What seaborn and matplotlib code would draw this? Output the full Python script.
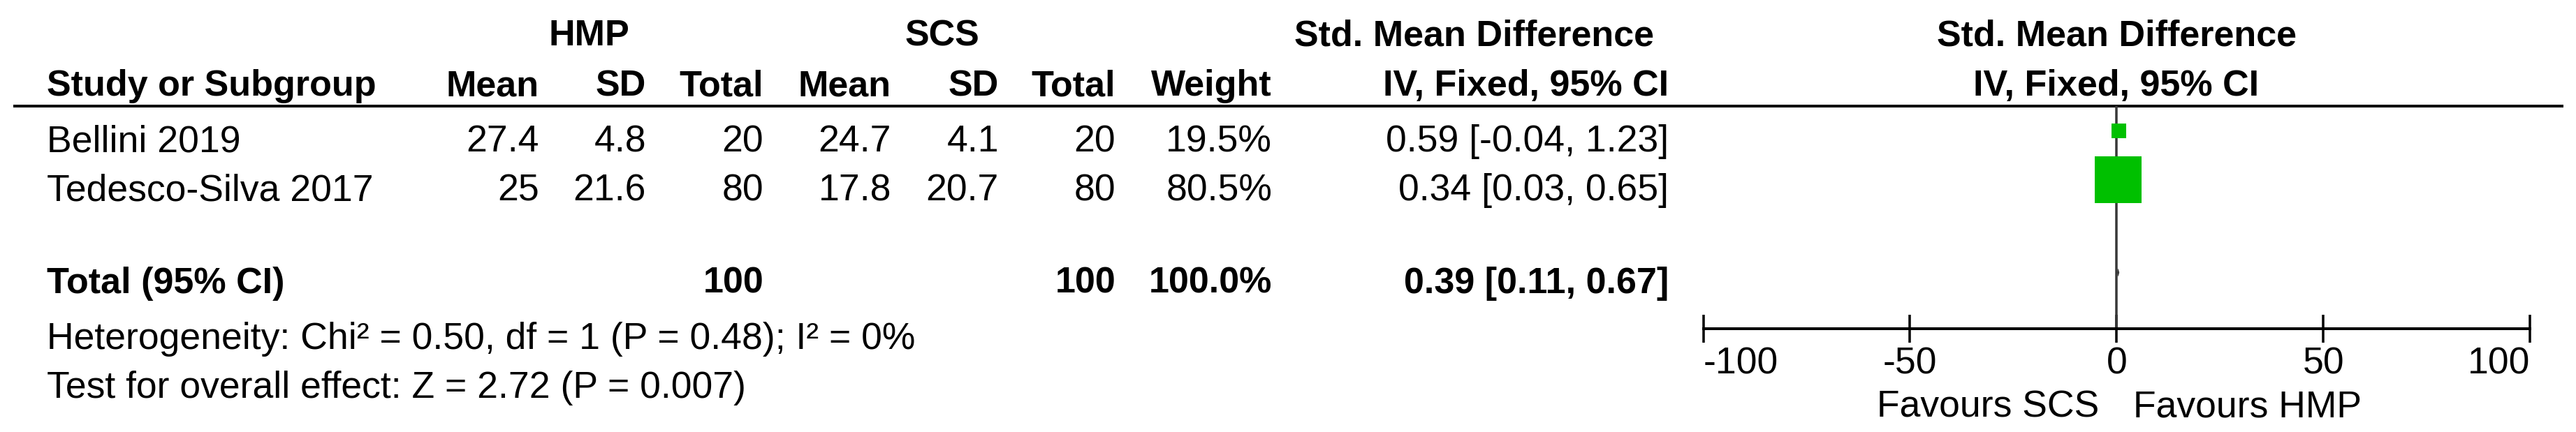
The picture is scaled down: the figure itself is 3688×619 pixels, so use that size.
import numpy as np
import pandas as pd
import matplotlib
matplotlib.use("Agg")
import matplotlib.pyplot as plt
import seaborn as sns

# ---------------- data ----------------
studies = ["Bellini 2019", "Tedesco-Silva 2017"]
hmp_mean = [27.4, 25]
hmp_sd = [4.8, 21.6]
hmp_total = [20, 80]
scs_mean = [24.7, 17.8]
scs_sd = [4.1, 20.7]
scs_total = [20, 80]
weights = [19.5, 80.5]
smd = [0.59, 0.34]
ci_low = [-0.04, 0.03]
ci_high = [1.23, 0.65]

total_label = "Total (95% CI)"
total_hmp = 100
total_scs = 100
total_weight = 100.0
total_smd = 0.39
total_low = 0.11
total_high = 0.67

heterogeneity = "Heterogeneity: Chi² = 0.50, df = 1 (P = 0.48); I² = 0%"
overall_effect = "Test for overall effect: Z = 2.72 (P = 0.007)"

group_labels = ["HMP", "SCS"]
effect_header = "Std. Mean Difference"
method_header = "IV, Fixed, 95% CI"
col_headers = ["Mean", "SD", "Total", "Mean", "SD", "Total", "Weight", method_header]
study_header = "Study or Subgroup"
axis_ticks = [-100, -50, 0, 50, 100]
axis_limits = [-100, 100]
favours_left = "Favours SCS"
favours_right = "Favours HMP"

# ---------------- style ----------------
sns.set_theme(style="white")
plt.rcParams["font.family"] = ["Liberation Sans", "DejaVu Sans"]

W, H = 3688, 619
DPI = 100
PX = 72.0 / DPI          # points per pixel
FS_B = 37.5              # bold text
FS_R = 38.5              # regular text
GREEN = "#00C000"
LINE_GREY = "#383838"

fig = plt.figure(figsize=(W / DPI, H / DPI), dpi=DPI)
fig.patch.set_facecolor("white")

# overlay axes in pixel coordinates for the table
ax_t = fig.add_axes([0, 0, 1, 1])
ax_t.set_xlim(0, W)
ax_t.set_ylim(H, 0)
ax_t.axis("off")


def txt(x, y, s, ha="left", bold=False):
    ax_t.text(x, y, s, ha=ha, va="baseline", fontsize=FS_B if bold else FS_R,
              fontweight="bold" if bold else "normal", color="black")


# layout (pixels)
study_x = 67
col_right = [772, 925, 1093, 1276, 1430, 1597, 1821, 2389]
hmp_center, scs_center, effect_center = 843, 1349, 2110
plot_center = 3030
y_head1, y_head2 = 65, 137
row_base = [217, 287]
y_total, y_het, y_over = 420, 500, 570
line_y = 152

# headers
txt(hmp_center, y_head1, group_labels[0], ha="center", bold=True)
txt(scs_center, y_head1, group_labels[1], ha="center", bold=True)
txt(effect_center, y_head1, effect_header, ha="center", bold=True)
txt(plot_center, y_head1, effect_header, ha="center", bold=True)
txt(study_x, y_head2, study_header, bold=True)
for xr, h in zip(col_right, col_headers):
    txt(xr, y_head2, h, ha="right", bold=True)
txt(plot_center, y_head2, method_header, ha="center", bold=True)

ax_t.hlines(line_y, 19, 3670, color="black", lw=4 * PX)


def fmt(v):
    return f"{v:g}"


# study rows
for i, name in enumerate(studies):
    yb = row_base[i]
    txt(study_x, yb, name)
    vals = [fmt(hmp_mean[i]), fmt(hmp_sd[i]), str(hmp_total[i]),
            fmt(scs_mean[i]), fmt(scs_sd[i]), str(scs_total[i]),
            f"{weights[i]:.1f}%",
            f"{smd[i]:.2f} [{ci_low[i]:.2f}, {ci_high[i]:.2f}]"]
    for xr, v in zip(col_right, vals):
        txt(xr, yb, v, ha="right")

# total row
txt(study_x, y_total, total_label, bold=True)
txt(col_right[2], y_total, str(total_hmp), ha="right", bold=True)
txt(col_right[5], y_total, str(total_scs), ha="right", bold=True)
txt(col_right[6], y_total, f"{total_weight:.1f}%", ha="right", bold=True)
txt(col_right[7], y_total,
    f"{total_smd:.2f} [{total_low:.2f}, {total_high:.2f}]", ha="right", bold=True)

txt(study_x, y_het, heterogeneity)
txt(study_x, y_over, overall_effect)

# ---------------- forest plot ----------------
x0, x1 = 2438.5, 3622
ytop, ybot = line_y, 471
ax_f = fig.add_axes([x0 / W, (H - ybot) / H, (x1 - x0) / W, (ybot - ytop) / H])
ax_f.patch.set_alpha(0)
ax_f.set_xlim(*axis_limits)
ax_f.set_ylim(ybot, ytop)

offset = 29.5
row_y = [b - offset for b in row_base]
total_y = y_total - offset

ax_f.axvline(0, color=LINE_GREY, lw=3.5 * PX, zorder=1)
ax_f.hlines(row_y, ci_low, ci_high, color="black", lw=2 * PX, zorder=2)

side_px = [0.746 * w + 6.95 for w in weights]
areas = [(s * PX) ** 2 for s in side_px]
df = pd.DataFrame({"smd": smd, "y": row_y, "weight": weights})
sns.scatterplot(data=df, x="smd", y="y", size="weight",
                sizes=(min(areas), max(areas)), marker="s", color=GREEN,
                linewidth=0, legend=False, ax=ax_f, zorder=3)

# pooled estimate diamond (tiny on this scale, hidden on the zero line)
dh = 6
ax_f.fill([total_low, total_smd, total_high, total_smd],
          [total_y, total_y - dh, total_y, total_y + dh],
          color=LINE_GREY, lw=0, zorder=2)

for s in ["left", "right", "top"]:
    ax_f.spines[s].set_visible(False)
ax_f.spines["bottom"].set_linewidth(4 * PX)
ax_f.spines["bottom"].set_color("black")
ax_f.set_yticks([])
ax_f.set_xticks(axis_ticks)
ax_f.set_xticklabels([f"{t:g}" for t in axis_ticks])
ax_f.tick_params(axis="x", which="major", bottom=True, direction="inout",
                 length=40 * PX, width=3.5 * PX, color="black", pad=4,
                 labelsize=FS_R, labelcolor="black")
labels = ax_f.get_xticklabels()
labels[0].set_horizontalalignment("left")
labels[-1].set_horizontalalignment("right")
ax_f.set_xlabel("")
ax_f.set_ylabel("")

txt(3005, 597, favours_left, ha="right")
txt(3054, 597, favours_right, ha="left")

fig.savefig("out.png", dpi=DPI, facecolor="white")
